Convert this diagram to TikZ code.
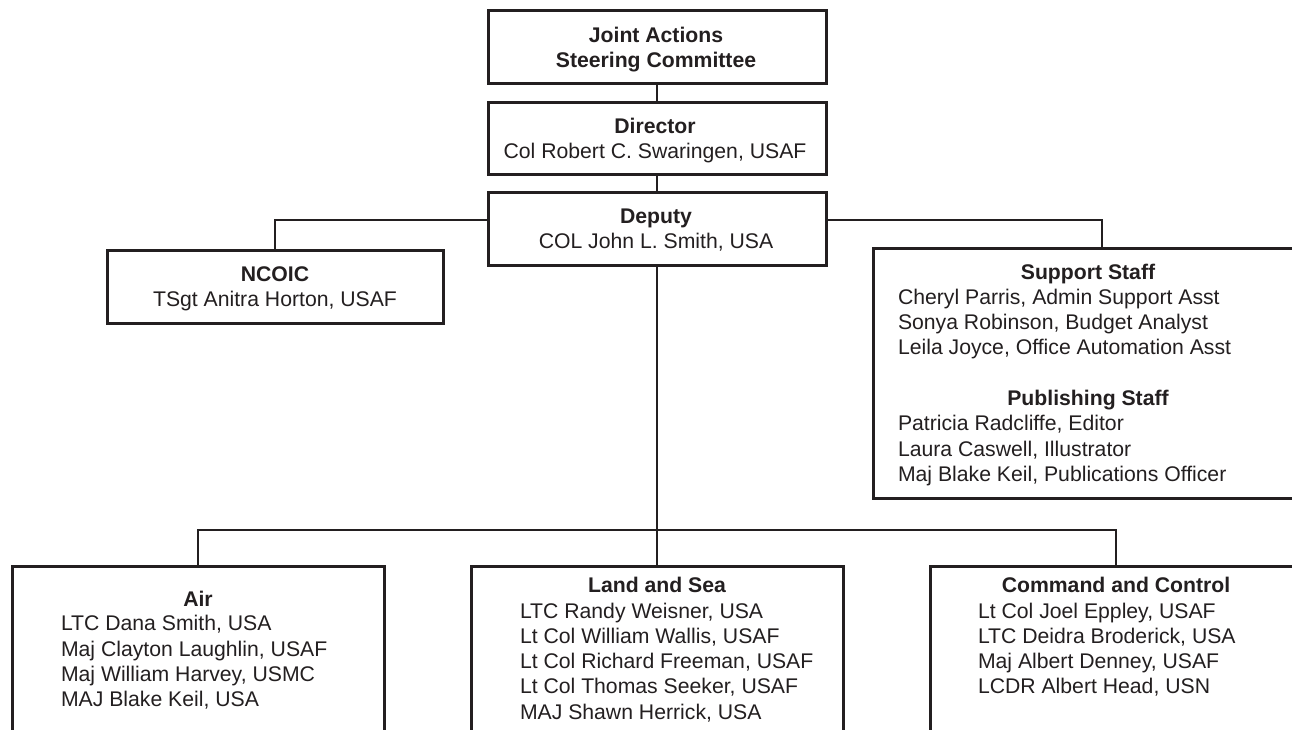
\documentclass[tikz,border=0pt]{standalone}
\usepackage{fontspec}
\setmainfont{Liberation Sans}
\definecolor{ink}{HTML}{231F20}
\begin{document}
\begin{tikzpicture}[x=1pt,y=-1pt,
  every node/.style={inner sep=0pt, outer sep=0pt},
  box/.style={draw=ink, line width=3pt, rectangle},
  link/.style={draw=ink, line width=2.8pt},
  txt/.style={text=ink, font=\fontsize{21.2}{25.3}\selectfont},
  blk/.style={txt, anchor=north, yshift=17.71pt, align=center},
  lst/.style={txt, anchor=north west, yshift=17.71pt, align=left},
]
\useasboundingbox (0,0) rectangle (1292,729);
\clip (0,0) rectangle (1292,729);
\fill[white] (0,0) rectangle (1292,729);

% boxes
\node[box, minimum width=338pt, minimum height=73pt] (jasc) at (657,46.5) {};
\node[box, minimum width=338pt, minimum height=72pt] (dir) at (657,138) {};
\node[box, minimum width=338pt, minimum height=73pt] (dep) at (657,228.5) {};
\node[box, minimum width=336pt, minimum height=73pt] (ncoic) at (275,286.5) {};
\node[box, minimum width=439pt, minimum height=250pt] (support) at (1092.5,373) {};
\node[box, minimum width=372pt, minimum height=214pt] (air) at (198,673) {};
\node[box, minimum width=372pt, minimum height=214pt] (land) at (657,673) {};
\node[box, minimum width=372pt, minimum height=214pt] (cc) at (1116,673) {};

% texts
\node[blk] (tjasc) at (656,42) {\strut\bfseries Joint Actions\\\strut\bfseries Steering Committee};
\node[blk] (tdir) at (655,133) {\strut\bfseries Director\\\strut Col Robert C. Swaringen, USAF};
\node[blk] (tdep) at (656,223) {\strut\bfseries Deputy\\\strut COL John L. Smith, USA};
\node[blk] (tncoic) at (275,281) {\strut\bfseries NCOIC\\\strut TSgt Anitra Horton, USAF};

\node[blk] (tsup) at (1088,279) {\strut\bfseries Support Staff};
\node[lst] (lsup) at (898,304.3) {\strut Cheryl Parris, Admin Support Asst\\\strut Sonya Robinson, Budget Analyst\\\strut Leila Joyce, Office Automation Asst};
\node[blk] (tpub) at (1088,405.5) {\strut\bfseries Publishing Staff};
\node[lst] (lpub) at (898,430.8) {\strut Patricia Radcliffe, Editor\\\strut Laura Caswell, Illustrator\\\strut Maj Blake Keil, Publications Officer};

\node[blk] (tair) at (198,606) {\strut\bfseries Air};
\node[lst] (lair) at (61,630.7) {\strut LTC Dana Smith, USA\\\strut Maj Clayton Laughlin, USAF\\\strut Maj William Harvey, USMC\\\strut MAJ Blake Keil, USA};
\node[blk] (tland) at (657,592.5) {\strut\bfseries Land and Sea};
\node[lst] (lland) at (520,618) {\strut LTC Randy Weisner, USA\\\strut Lt Col William Wallis, USAF\\\strut Lt Col Richard Freeman, USAF\\\strut Lt Col Thomas Seeker, USAF\\\strut MAJ Shawn Herrick, USA};
\node[blk] (tcc) at (1116,592.5) {\strut\bfseries Command and Control};
\node[lst] (lcc) at (978,618) {\strut Lt Col Joel Eppley, USAF\\\strut LTC Deidra Broderick, USA\\\strut Maj Albert Denney, USAF\\\strut LCDR Albert Head, USN};

% connectors
\coordinate (ltop) at (657,220);
\coordinate (sjoin) at (1102,220);
\coordinate (bbus) at (657,530);
\draw[link] (jasc) -- (dir);
\draw[link] (dir) -- (dep);
\draw[link] (ncoic.north) |- (dep.west |- ltop);
\draw[link] (dep.east |- ltop) -| (sjoin |- support.north);
\draw[link] (dep.south) -- (bbus);
\draw[link] (air.north) |- (bbus) -| (cc.north);
\draw[link] (bbus) -- (land.north);
\end{tikzpicture}
\end{document}
